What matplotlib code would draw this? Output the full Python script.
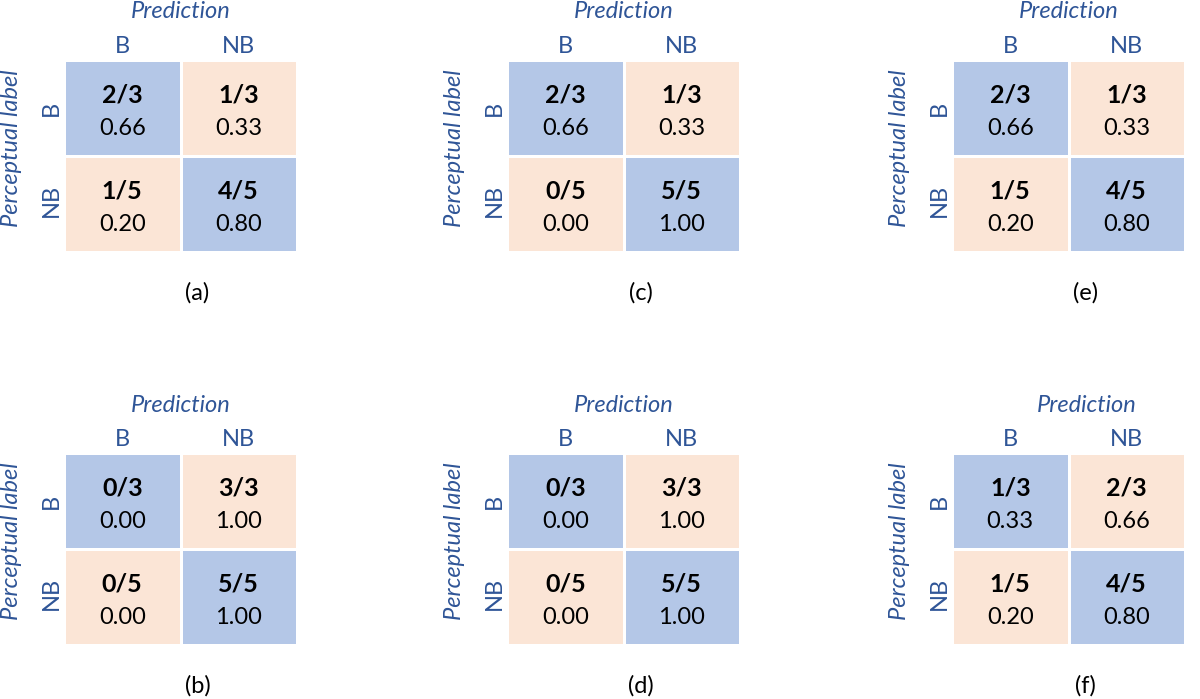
import numpy as np
import matplotlib.pyplot as plt
from matplotlib.colors import ListedColormap

plt.rcParams['font.family'] = ['Lato', 'DejaVu Sans']

# data
classes = ['B', 'NB']
row_totals = [3, 5]
panel_names = ['(a)', '(b)', '(c)', '(d)', '(e)', '(f)']

hits_a = [[2, 1], [1, 4]]
hits_b = [[0, 3], [0, 5]]
hits_c = [[2, 1], [0, 5]]
hits_d = [[0, 3], [0, 5]]
hits_e = [[2, 1], [1, 4]]
hits_f = [[1, 2], [1, 4]]

rates_a = [[0.66, 0.33], [0.20, 0.80]]
rates_b = [[0.00, 1.00], [0.00, 1.00]]
rates_c = [[0.66, 0.33], [0.00, 1.00]]
rates_d = [[0.00, 1.00], [0.00, 1.00]]
rates_e = [[0.66, 0.33], [0.20, 0.80]]
rates_f = [[0.33, 0.66], [0.20, 0.80]]

all_hits = [hits_a, hits_b, hits_c, hits_d, hits_e, hits_f]
all_rates = [rates_a, rates_b, rates_c, rates_d, rates_e, rates_f]

label_blue = '#2F5597'
cmap = ListedColormap(['#FBE5D6', '#B4C7E7'])

W, H = 1200, 699
fig = plt.figure(figsize=(12, 6.99), dpi=100)

# grid placement in pixels
col_left = [64, 507, 952]
row_top = [60, 453]
gw, gh = 233, 192
# "Prediction" in (f) sits a bit right of centre
title_shift = [0, 0, 0, 0, 0, 18]

for i, name in enumerate(panel_names):
    col, row = i // 2, i % 2
    left, top = col_left[col], row_top[row]
    ax = fig.add_axes([left / W, 1 - (top + gh) / H, gw / W, gh / H])

    hits = all_hits[i]
    rates = all_rates[i]

    ax.pcolormesh(np.arange(3), np.arange(3), np.eye(2), cmap=cmap,
                  edgecolors='white', linewidth=2)
    ax.set_xlim(0, 2)
    ax.set_ylim(2, 0)
    ax.axis('off')

    for r in range(2):
        for c in range(2):
            ax.text(c + 0.5, r + 0.36, f'{hits[r][c]}/{row_totals[r]}',
                    ha='center', va='center', fontsize=18, fontweight='bold')
            ax.text(c + 0.5, r + 0.71, f'{rates[r][c]:.2f}',
                    ha='center', va='center', fontsize=17)

    # column / row class labels
    for k, cls in enumerate(classes):
        ax.text(k + 0.5, -0.14, cls, ha='center', va='center',
                fontsize=17, color=label_blue)
        ax.text(-0.11, k + 0.5 - 0.04 * k, cls, ha='center', va='center',
                fontsize=17, color=label_blue, rotation=90)

    ax.text(0.5 + title_shift[i] / gw, 1 + 48 / gh, 'Prediction',
            transform=ax.transAxes, ha='center', va='center',
            fontsize=17, color=label_blue, style='italic')
    ax.text(-0.45, 0.92, 'Perceptual label', ha='center', va='center',
            fontsize=17, color=label_blue, style='italic', rotation=90)

    ax.text(0.5 + 17 / gw, -41 / gh, name, transform=ax.transAxes,
            ha='center', va='center', fontsize=17)

plt.savefig('out.png', dpi=100)
